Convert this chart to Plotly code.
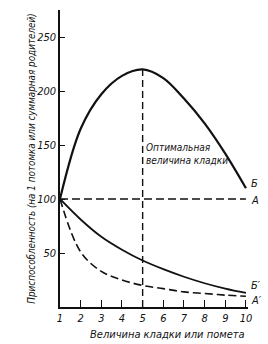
import plotly.graph_objects as go

clutch = [1, 2, 3, 4, 5, 6, 7, 8, 9, 10]
fitness_B = [100, 165, 197, 214, 220, 212, 193, 170, 142, 110]
fitness_B_per = [100, 81, 65, 53, 43, 35, 28, 22, 17, 13]
fitness_A = [100, 100, 100, 100, 100, 100, 100, 100, 100, 100]
fitness_A_per = [100, 51, 33, 25, 20, 17, 14, 12.5, 11, 10]
optimum_x = [5, 5]
optimum_y = [0, 220]
x_ticks = [1, 2, 3, 4, 5, 6, 7, 8, 9, 10]
y_ticks = [50, 100, 150, 200, 250]

FONT = "DejaVu Sans Condensed"
ink = "#111111"

fig = go.Figure()
fig.add_trace(go.Scatter(x=clutch, y=fitness_B, mode="lines",
                         line=dict(color=ink, width=2.2, shape="spline", smoothing=1.0)))
fig.add_trace(go.Scatter(x=clutch, y=fitness_B_per, mode="lines",
                         line=dict(color=ink, width=1.8, shape="spline", smoothing=1.0)))
fig.add_trace(go.Scatter(x=clutch, y=fitness_A, mode="lines",
                         line=dict(color=ink, width=1.6, dash="8px,4px")))
fig.add_trace(go.Scatter(x=clutch, y=fitness_A_per, mode="lines",
                         line=dict(color=ink, width=1.6, dash="8px,4px", shape="spline", smoothing=1.0)))
fig.add_trace(go.Scatter(x=optimum_x, y=optimum_y, mode="lines",
                         line=dict(color=ink, width=1.4, dash="7px,4px")))

labels = [("Б", fitness_B[-1] + 4), ("А", fitness_A[-1] - 1),
          ("Б′", fitness_B_per[-1] + 7), ("А′", fitness_A_per[-1] - 4)]
for txt, yv in labels:
    fig.add_annotation(x=10, y=yv, xref="x", yref="y", text=txt, showarrow=False,
                       xanchor="left", xshift=3,
                       font=dict(family=FONT, size=11, color=ink, style="italic"))

fig.add_annotation(x=5, y=142, xref="x", yref="y",
                   text="Оптимальная<br>величина кладки", showarrow=False,
                   xanchor="left", align="left", xshift=1,
                   font=dict(family=FONT, size=10, color=ink, style="italic"))

fig.add_annotation(x=6.2, y=0, xref="x", yref="paper", yanchor="top", yshift=-19,
                   text="Величина кладки или помета", showarrow=False,
                   font=dict(family=FONT, size=11, color=ink, style="italic"))

fig.update_layout(
    width=268, height=344,
    margin=dict(l=60, r=20, t=10, b=37),
    paper_bgcolor="white", plot_bgcolor="white",
    showlegend=False,
    font=dict(family=FONT, size=11, color=ink, style="italic"),
)
fig.update_xaxes(range=[1, 10.1], tickvals=x_ticks, ticks="inside", ticklen=7,
                 tickwidth=1.3, tickcolor=ink, showline=True, linecolor=ink, linewidth=1.5,
                 showgrid=False, zeroline=False,
                 tickfont=dict(family=FONT, size=11, style="italic"))
fig.update_yaxes(range=[0, 275], tickvals=y_ticks, ticks="inside", ticklen=5,
                 tickwidth=1.3, tickcolor=ink, showline=True, linecolor=ink, linewidth=1.5,
                 showgrid=False, zeroline=False,
                 tickfont=dict(family=FONT, size=11, style="italic"),
                 title=dict(text="Приспособленность (на 1 потомка или суммарная родителей)",
                            standoff=0, font=dict(family=FONT, size=9.8, style="italic")))

fig.write_html("out.html")
